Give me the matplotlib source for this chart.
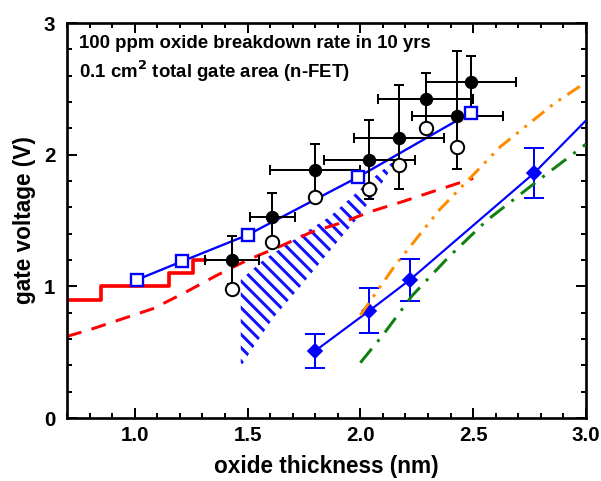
import matplotlib
matplotlib.use("Agg")
import matplotlib.pyplot as plt
from matplotlib.ticker import MultipleLocator

plt.rcParams['font.family'] = ['Liberation Sans', 'DejaVu Sans']
plt.rcParams['font.weight'] = 'bold'
plt.rcParams['hatch.linewidth'] = 1.8

# filled circles (with x and y error bars)
tox_f = [1.43, 1.61, 1.80, 2.04, 2.17, 2.29, 2.43, 2.49]
vg_f = [1.20, 1.53, 1.88, 1.96, 2.13, 2.42, 2.29, 2.55]
xerr_f = [0.12, 0.10, 0.20, 0.20, 0.20, 0.21, 0.20, 0.20]
yerr_lo = [0.18, 0.18, 0.20, 0.30, 0.39, 0.20, 0.40, 0.20]
yerr_hi = [0.18, 0.18, 0.20, 0.30, 0.40, 0.20, 0.50, 0.20]

# open circles
tox_o = [1.43, 1.61, 1.80, 2.04, 2.17, 2.29, 2.43]
vg_o = [0.98, 1.34, 1.68, 1.74, 1.92, 2.20, 2.06]

# open squares
tox_s = [1.01, 1.21, 1.50, 1.99, 2.49]
vg_s = [1.05, 1.19, 1.39, 1.83, 2.32]

# diamonds
tox_d = [1.80, 2.04, 2.22, 2.77]
vg_d = [0.51, 0.815, 1.05, 1.86]
yerr_d = [0.13, 0.17, 0.16, 0.19]

# fit through diamonds
fit_x = [1.80, 2.04, 2.22, 2.77, 3.0]
fit_y = [0.51, 0.815, 1.05, 1.86, 2.26]

# red step line
step_x = [0.7, 0.85, 0.85, 1.15, 1.15, 1.26, 1.26, 1.31]
step_y = [0.9, 0.9, 1.0, 1.0, 1.1, 1.1, 1.2, 1.2]

# red dashed curve
red_x = [0.7, 0.8, 1.08, 1.22, 1.36, 1.5, 1.66, 1.78, 1.92, 2.05, 2.19, 2.33, 2.5]
red_y = [0.62, 0.67, 0.83, 0.95, 1.08, 1.2, 1.315, 1.41, 1.485, 1.57, 1.645, 1.725, 1.82]

# orange dash-dot-dot
orange_x = [2.0, 2.15, 2.35, 2.62, 2.86, 3.0]
orange_y = [0.78, 1.15, 1.58, 2.06, 2.39, 2.55]

# green dash-dot
green_x = [2.0, 2.1, 2.23, 2.39, 2.56, 2.8, 3.0]
green_y = [0.42, 0.63, 0.93, 1.22, 1.50, 1.82, 2.08]

# hatched region outline
hatch_x = [1.47, 1.47, 1.57, 1.72, 1.865, 2.04, 2.19, 2.16, 2.087, 1.984, 1.865, 1.74, 1.614, 1.511, 1.474]
hatch_y = [0.40, 1.05, 1.20, 1.37, 1.53, 1.80, 2.01, 1.96, 1.76, 1.51, 1.27, 1.01, 0.76, 0.50, 0.40]

fig = plt.figure(figsize=(601 / 120, 481 / 120), dpi=120)
ax = fig.add_axes([67 / 601, 63 / 481, 519 / 601, 395 / 481])

ax.fill(hatch_x, hatch_y, facecolor='none', edgecolor='#1010ff', hatch='\\\\\\', linewidth=0, zorder=1)

ax.plot(step_x, step_y, color='#ff0000', lw=2.2, zorder=2)
ax.plot(red_x, red_y, color='#ff0000', lw=1.8, dashes=(5, 3.5), zorder=2)

ax.plot(tox_s, vg_s, color='#0000ff', lw=1.4, zorder=3)

ax.errorbar(tox_f, vg_f, xerr=xerr_f, yerr=[yerr_lo, yerr_hi], fmt='o', color='black',
            ms=7, elinewidth=1.2, capsize=2.8, capthick=1.2, zorder=4)
ax.plot(tox_o, vg_o, 'o', ms=8, mfc='white', mec='black', mew=1.2, zorder=5)
ax.plot(tox_s, vg_s, 's', ms=7.5, mfc='white', mec='#0000ff', mew=1.4, zorder=6)

ax.plot(fit_x, fit_y, color='#0000ff', lw=1.3, zorder=3)
ax.errorbar(tox_d, vg_d, yerr=yerr_d, fmt='D', color='#0000ff', ms=6,
            elinewidth=1.2, capsize=6, capthick=1.2, zorder=4)

ax.plot(orange_x, orange_y, color='#ff8c00', lw=1.8, dashes=(5, 2.5, 1, 2.5, 1, 2.5), zorder=5)
ax.plot(green_x, green_y, color='#108010', lw=1.8, dashes=(6, 3, 1, 3), zorder=5)

ax.set_xlim(0.7, 3.0)
ax.set_ylim(0, 3)
ax.xaxis.set_minor_locator(MultipleLocator(0.1))
ax.yaxis.set_major_locator(MultipleLocator(1))
ax.yaxis.set_minor_locator(MultipleLocator(0.2))
ax.set_xticks([1.0, 1.5, 2.0, 2.5, 3.0])
ax.set_xticklabels(['1.0', '1.5', '2.0', '2.5', '3.0'])
ax.tick_params(which='both', direction='in', top=True, right=True, width=1.2, labelsize=12.3)
ax.tick_params(which='major', length=6)
ax.tick_params(which='minor', length=3)
ax.tick_params(axis='x', which='major', pad=5)
ax.tick_params(axis='y', which='major', pad=7)
for s in ax.spines.values():
    s.set_linewidth(1.6)

ax.set_xlabel('oxide thickness (nm)', fontsize=13.6, fontweight='bold', labelpad=6)
ax.set_ylabel('gate voltage (V)', fontsize=13.6, fontweight='bold', labelpad=4.5)

ax.text(0.023, 0.937, '100 ppm oxide breakdown rate in 10 yrs', transform=ax.transAxes,
        fontsize=11.2, fontweight='bold', va='baseline')
ax.text(0.023, 0.862, r'0.1 cm$^\mathbf{2}$ total gate area (n-FET)', transform=ax.transAxes,
        fontsize=11.2, fontweight='bold', va='baseline')

fig.savefig('out.png', dpi=120)
